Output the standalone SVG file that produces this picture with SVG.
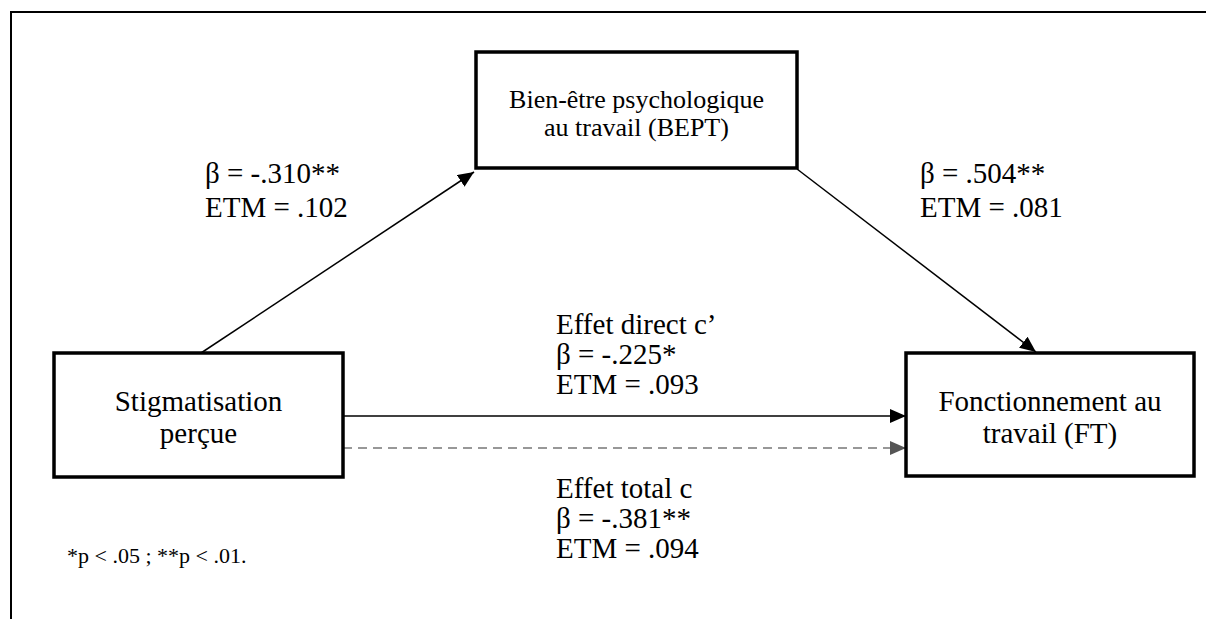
<svg xmlns="http://www.w3.org/2000/svg" width="1206" height="619" viewBox="0 0 1206 619">
<style>
  .box { fill: #ffffff; stroke: #000000; stroke-width: 3.5; }
  .frame { fill: none; stroke: #000000; stroke-width: 2; }
  .t { font-family: "Liberation Serif", "Times New Roman", serif; fill: #000000; }
  .lbl { font-size: 29px; }
  .node { font-size: 29px; text-anchor: middle; }
  .small { font-size: 26px; text-anchor: middle; }
  .note { font-size: 22px; }
  .conn { stroke: #000000; stroke-width: 1.5; fill: none; }
  .dash { stroke: #777777; stroke-width: 1.5; fill: none; stroke-dasharray: 9 6; }
</style>
<defs>
  <marker id="ah" markerUnits="userSpaceOnUse" markerWidth="18" markerHeight="14" refX="16" refY="7" orient="auto">
    <path d="M0,0 L16,7 L0,14 Z" fill="#000000"/>
  </marker>
  <marker id="ahg" markerUnits="userSpaceOnUse" markerWidth="18" markerHeight="14" refX="16" refY="7" orient="auto">
    <path d="M0,0 L16,7 L0,14 Z" fill="#555555"/>
  </marker>
</defs>
<rect width="1206" height="619" fill="#ffffff"/>
<path class="frame" d="M11,625 L11,12 L1212,12"/>

<g id="connectors">
  <line class="conn" x1="201" y1="353" x2="474" y2="172" marker-end="url(#ah)"/>
  <line class="conn" x1="797" y1="169" x2="1036" y2="352" marker-end="url(#ah)"/>
  <line class="conn" x1="343" y1="416" x2="906" y2="416" marker-end="url(#ah)"/>
  <line class="dash" x1="343" y1="448" x2="906" y2="448" marker-end="url(#ahg)"/>
</g>

<g id="node-bept">
  <rect class="box" x="476" y="52" width="321" height="116"/>
  <text class="t small" x="636.5" y="108">Bien-être psychologique</text>
  <text class="t small" x="636.5" y="136">au travail (BEPT)</text>
</g>
<g id="node-stig">
  <rect class="box" x="54" y="353" width="289" height="124"/>
  <text class="t node" x="198.5" y="411">Stigmatisation</text>
  <text class="t node" x="198.5" y="443">perçue</text>
</g>
<g id="node-ft">
  <rect class="box" x="906" y="353" width="288" height="123"/>
  <text class="t node" x="1050" y="411">Fonctionnement au</text>
  <text class="t node" x="1050" y="443">travail (FT)</text>
</g>

<g id="labels">
  <text class="t lbl" x="205" y="183">β = -.310**</text>
  <text class="t lbl" x="205" y="217">ETM = .102</text>
  <text class="t lbl" x="920" y="183">β = .504**</text>
  <text class="t lbl" x="920" y="217">ETM = .081</text>
  <text class="t lbl" x="556" y="334">Effet direct c’</text>
  <text class="t lbl" x="556" y="364">β = -.225*</text>
  <text class="t lbl" x="556" y="394">ETM = .093</text>
  <text class="t lbl" x="556" y="498">Effet total c</text>
  <text class="t lbl" x="556" y="528">β = -.381**</text>
  <text class="t lbl" x="556" y="558">ETM = .094</text>
  <text class="t note" x="67" y="563">*p &lt; .05 ; **p &lt; .01.</text>
</g>
</svg>
